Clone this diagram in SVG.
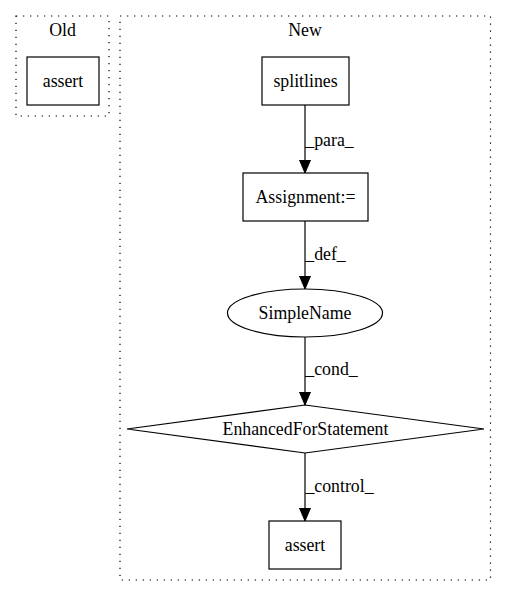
<svg xmlns="http://www.w3.org/2000/svg" width="507" height="596" viewBox="0 0 507 596">
<style>
text{font-family:"Liberation Serif","Times New Roman",serif;font-size:17.8px;fill:#000;text-anchor:middle}
.cl{fill:none;stroke:#000;stroke-width:1.2;stroke-dasharray:1.3,5.7}
.nd{fill:#fff;stroke:#000;stroke-width:1.2}
.ed{fill:none;stroke:#000;stroke-width:1.2}
</style>
<defs>
<marker id="ah" markerWidth="14" markerHeight="14" refX="13" refY="7" orient="auto" markerUnits="userSpaceOnUse">
<path d="M0,1.5 L13,7 L0,12.5 Z" fill="#000" stroke="#000"/>
</marker>
</defs>
<rect width="507" height="596" fill="#fff"/>
<g id="cluster_old">
<rect class="cl" x="16" y="16" width="93" height="100"/>
<text x="62.5" y="36">Old</text>
</g>
<g id="cluster_new">
<rect class="cl" x="120" y="16" width="370.5" height="564"/>
<text x="305" y="36">New</text>
</g>
<g id="connectors">
<line class="ed" x1="305" y1="105" x2="305" y2="173" marker-end="url(#ah)"/>
<text x="329.5" y="146">_para_</text>
<line class="ed" x1="305" y1="221" x2="305" y2="289" marker-end="url(#ah)"/>
<text x="325.5" y="260">_def_</text>
<line class="ed" x1="305" y1="337" x2="305" y2="405" marker-end="url(#ah)"/>
<text x="331.5" y="375">_cond_</text>
<line class="ed" x1="305" y1="453" x2="305" y2="521" marker-end="url(#ah)"/>
<text x="339.5" y="492">_control_</text>
</g>
<g id="old_assert">
<rect class="nd" x="27" y="57" width="72" height="48"/>
<text x="63" y="86.5">assert</text>
</g>
<g id="splitlines">
<rect class="nd" x="262" y="57" width="87" height="48"/>
<text x="305.5" y="86.5">splitlines</text>
</g>
<g id="assignment">
<rect class="nd" x="243" y="173" width="125" height="48"/>
<text x="305.5" y="202.5">Assignment:=</text>
</g>
<g id="simplename">
<ellipse class="nd" cx="305" cy="313" rx="77.5" ry="24"/>
<text x="305" y="318.5">SimpleName</text>
</g>
<g id="enhancedfor">
<polygon class="nd" points="305,405 484,429 305,453 127,429"/>
<text x="305.5" y="434.5">EnhancedForStatement</text>
</g>
<g id="new_assert">
<rect class="nd" x="269" y="521" width="72" height="48"/>
<text x="305" y="550.5">assert</text>
</g>
</svg>
